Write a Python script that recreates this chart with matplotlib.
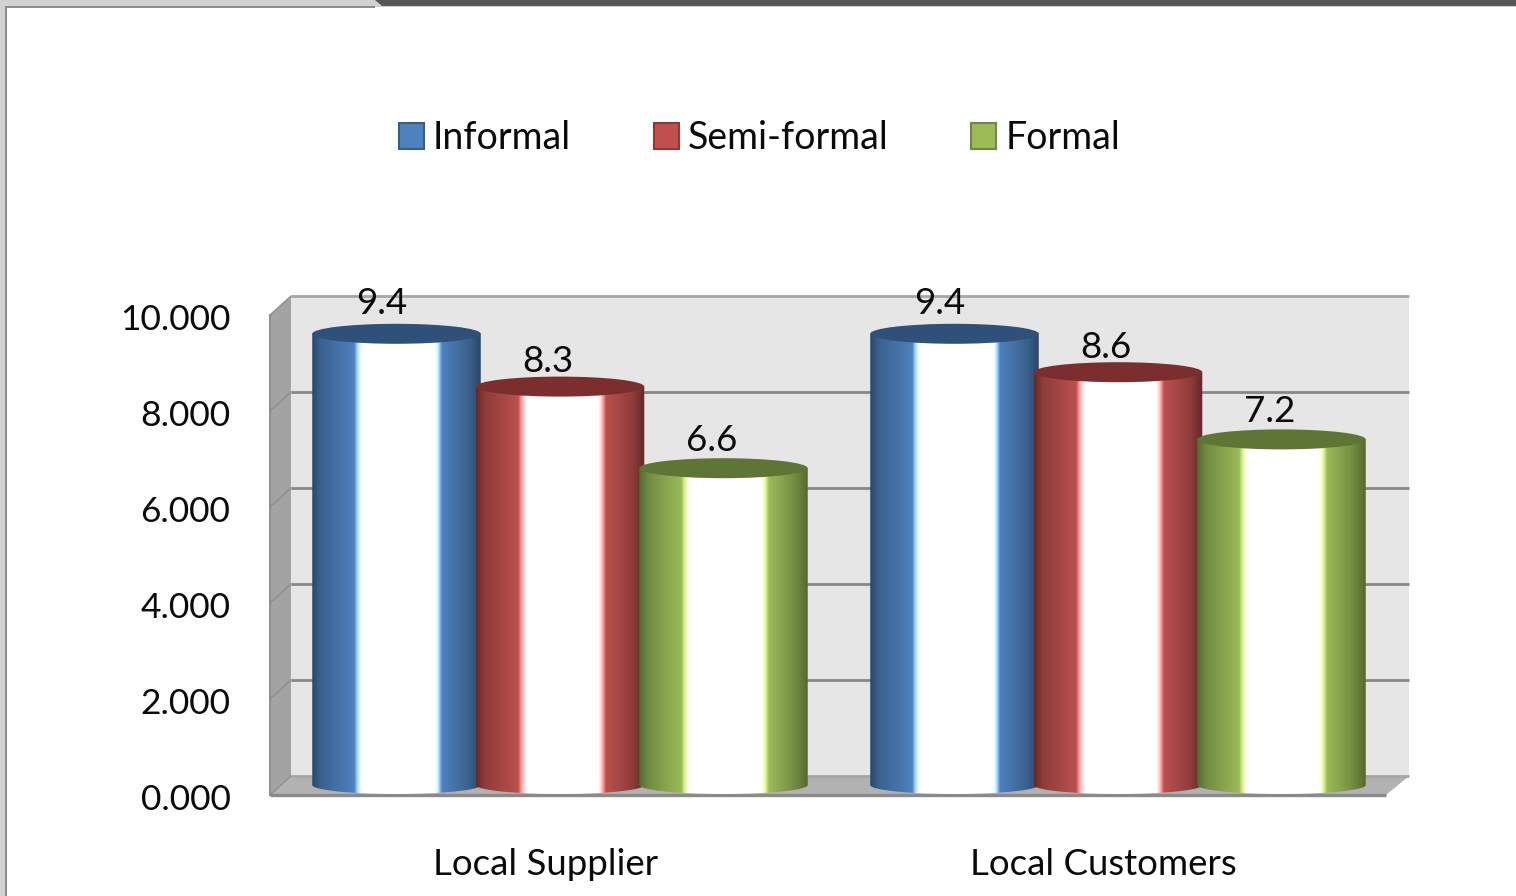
import numpy as np
import matplotlib
matplotlib.use("Agg")
import matplotlib.pyplot as plt
from matplotlib.colors import LinearSegmentedColormap
from matplotlib.patches import Polygon, Ellipse, Patch, Rectangle, PathPatch
from matplotlib.path import Path
from matplotlib.transforms import ScaledTranslation

categories = ["Local Supplier", "Local Customers"]
series_names = ["Informal", "Semi-formal", "Formal"]
informal = [9.4, 9.4]
semi_formal = [8.3, 8.6]
formal = [6.6, 7.2]
y_ticks = [0, 2, 4, 6, 8, 10]

W, H = 1516, 896
plt.rcParams["font.family"] = ["Lato", "DejaVu Sans"]
fig = plt.figure(figsize=(W / 100, H / 100), dpi=100, facecolor="white")

# frame of the screenshot
fig.add_artist(Rectangle((0, 1 - 7 / H), 1, 7 / H, transform=fig.transFigure, fc="#D2D2D2", ec="none"))
fig.add_artist(Polygon([(375 / W, 1), (1, 1), (1, 1 - 6 / H), (382 / W, 1 - 6 / H)],
                       transform=fig.transFigure, fc="#565656", ec="none"))
fig.add_artist(Rectangle((0, 0), 5 / W, 1 - 7 / H, transform=fig.transFigure, fc="#D2D2D2", ec="none"))
fig.add_artist(Rectangle((5 / W, 0), 2 / W, 1 - 6 / H, transform=fig.transFigure, fc="#8C8C8C", ec="none"))
fig.add_artist(Rectangle((5 / W, 1 - 8 / H), 370 / W, 2 / H, transform=fig.transFigure, fc="#8C8C8C", ec="none"))

ax = fig.add_axes([270 / W, (H - 795) / H, 1116 / W, 480 / H])
ax.patch.set_visible(False)
for s in ax.spines.values():
    s.set_visible(False)

px_x = 2 / 1116
px_y = 10 / 480
DX, DY = 21 * px_x, 19 * px_y
EDGE = "#868686"

# walls
ax.add_patch(Polygon([(DX, DY), (2 + DX + 2 * px_x, DY), (2 + DX + 2 * px_x, 10 + DY), (DX, 10 + DY)],
                     fc="#E6E6E6", ec="none", clip_on=False, zorder=1))
ax.add_patch(Polygon([(0, 0), (DX, DY), (DX, 10 + DY), (0, 10)], fc="#A3A3A3", ec="none", clip_on=False, zorder=1))
ax.add_patch(Polygon([(0, 0), (2, 0), (2 + DX + 2 * px_x, DY), (DX, DY)], fc="#B2B2B2", ec="none", clip_on=False, zorder=1))
for t in y_ticks:
    col = "#A6A6A6" if t in (0, 10) else EDGE
    ax.plot([DX, 2 + DX + 2 * px_x], [t + DY, t + DY], color=col, lw=2.0, clip_on=False, zorder=2, solid_capstyle="butt")
    ax.plot([0, DX], [t, t + DY], color="#8E8E8E", lw=1.0, clip_on=False, zorder=2)
ax.plot([0, 2], [0, 0], color="#8A8A8A", lw=2.4, clip_on=False, zorder=2, solid_capstyle="butt")
ax.plot([0, 0], [0, 10], color="#8E8E8E", lw=1.4, clip_on=False, zorder=2)

# cylinders
stops = [0, 0.05, 0.25, 0.265, 0.285, 0.30, 0.725, 0.74, 0.755, 0.77, 0.93, 1]
def make_cmap(dark, deep, mid, glow, pale):
    cols = [dark, deep, mid, glow, pale, "#FFFFFF", "#FFFFFF", pale, glow, mid, deep, dark]
    return LinearSegmentedColormap.from_list("c", list(zip(stops, cols)), N=512)

styles = [
    (make_cmap("#2A466A", "#3A618E", "#4F81BD", "#98CBFF", "#DFFFFF"), "#2F5078", 0, 0),
    (make_cmap("#642725", "#8E3C3A", "#B9514E", "#FF8E8B", "#FFD8D6"), "#7B2E2D", 3, -5),
    (make_cmap("#56692E", "#6F8A3F", "#9BBB59", "#CFEA84", "#FAFFC4"), "#5F7535", 3, -2),
]
grad = np.linspace(0, 1, 512).reshape(1, -1)
BAR_W = 168.5 * px_x
STEP = 163.5 * px_x
CAP_B = 9 * px_y
CAP_T = 10 * px_y
SHIFT_X, SHIFT_Y = 11 * px_x, 10 * px_y
theta = np.linspace(np.pi, 2 * np.pi, 60)

z = 3
for j, (vals, (cmap, top, lab_dx, lab_dy)) in enumerate(zip([informal, semi_formal, formal], styles)):
    for i, v in enumerate(vals):
        xc = i + 0.5 + (j - 1) * STEP
        cx = xc + SHIFT_X
        x0, x1 = cx - BAR_W / 2, cx + BAR_W / 2
        y_top = v + SHIFT_Y
        bx = cx + BAR_W / 2 * np.cos(theta)
        by = SHIFT_Y + CAP_B * np.sin(theta)
        outline = np.vstack([[x0, y_top], np.column_stack([bx, by]), [x1, y_top], [x0, y_top]])
        clip = PathPatch(Path(outline), transform=ax.transData, fc="none", ec="none")
        ax.add_patch(clip)
        im = ax.imshow(grad, cmap=cmap, extent=[x0, x1, SHIFT_Y - CAP_B, y_top], aspect="auto",
                       interpolation="bilinear", zorder=z, origin="lower")
        im.set_clip_path(clip)
        ax.add_patch(Ellipse((cx, y_top), BAR_W, 2 * CAP_T, fc=top, ec="none", clip_on=False, zorder=z + 0.5))
        ax.annotate(f"{v:.1f}", (xc, v), xytext=((-4 + lab_dx) * 0.72, (40 + lab_dy) * 0.72),
                    textcoords="offset points", ha="center", va="center",
                    fontsize=26.5, color="#0A0A0A", zorder=20, annotation_clip=False)
        z += 1

ax.set_xlim(0, 2)
ax.set_ylim(0, 10)
ax.set_yticks(y_ticks)
ax.set_yticklabels([f"{t:.3f}" for t in y_ticks], fontsize=25.5, color="#0A0A0A")
ax.set_xticks([0.5, 1.5])
ax.set_xticklabels(categories, fontsize=26.4, color="#0A0A0A")
ax.tick_params(axis="y", length=0, pad=28.5)
ax.tick_params(axis="x", length=0, pad=38)
for lab in ax.get_yticklabels():
    lab.set_transform(lab.get_transform() + ScaledTranslation(0, -1.5 / 72, fig.dpi_scale_trans))
for lab in ax.get_xticklabels():
    lab.set_transform(lab.get_transform() + ScaledTranslation(-2.5 / 72, 0, fig.dpi_scale_trans))

handles = [Patch(fc=c, ec=e, lw=1.5, label=n) for n, c, e in
           zip(series_names, ["#4F81BD", "#C0504D", "#9BBB59"], ["#385D8A", "#8C3A38", "#71893F"])]
ax.legend(handles=handles, ncol=3, frameon=False, fontsize=27, loc="center",
          bbox_to_anchor=(759.5 / W, (H - 138) / H), bbox_transform=fig.transFigure,
          handlelength=0.67, handleheight=0.67, handletextpad=0.24, columnspacing=2.2, labelcolor="#0A0A0A")

fig.savefig("out.png", dpi=100)
